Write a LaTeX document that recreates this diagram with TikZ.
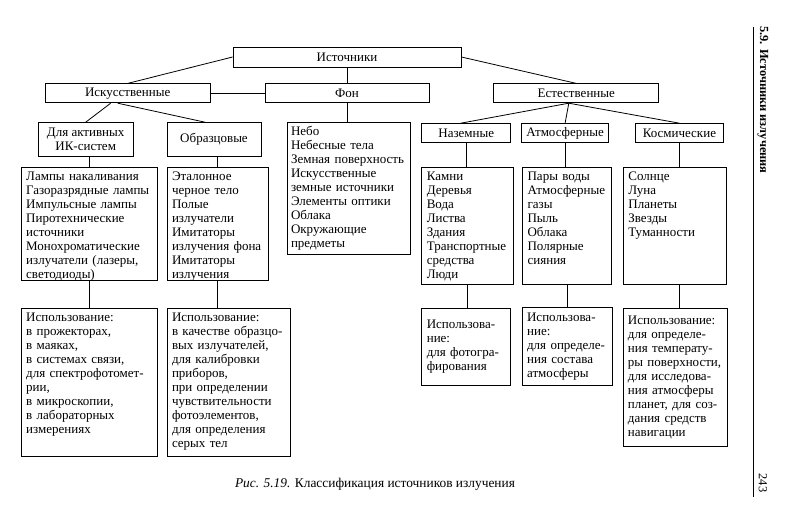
\documentclass[tikz,border=0pt]{standalone}
\usepackage{fontspec}
\setmainfont{Liberation Serif}
\usetikzlibrary{positioning}
\tikzstyle{head} = [rectangle,draw=black,minimum height=19pt,inner sep=0pt,text centered]
\tikzstyle{lst} = [rectangle,draw=black,align=left,inner xsep=5pt,inner ysep=3pt,text height=10pt]
\tikzstyle{use} = [rectangle,draw=black,align=left,inner xsep=5pt,inner ysep=3pt]

\begin{document}
\begin{tikzpicture}[x=1pt,y=1pt,line width=0.8pt,font=\fontsize{13}{14}\selectfont]
 \useasboundingbox (0,0) rectangle (794,-513);
 \node (SRC) [head,minimum width=228pt,minimum height=20pt] at (347,-57) {Источники};
 \node (BG) [head,minimum width=164pt,below=16pt of SRC] {Фон};
 \node (ART) [head,minimum width=165pt,left=54pt of BG] {Искусственные};
 \node (NAT) [head,minimum width=165pt,right=64pt of BG] {Естественные};
 % second level
 \node (ACT) [head,minimum width=95pt,minimum height=34pt,align=center,below=19pt of ART,xshift=-42pt]
            {Для активных\\ИК-систем};
 \node (REF) [head,minimum width=94pt,minimum height=34pt,right=33pt of ACT] {Образцовые};
 \node (BGL) [lst,inner xsep=4pt,text width=115pt,text depth=116pt,below=19pt of BG,xshift=1.5pt]
            {Небо\\Небесные тела\\Земная поверхность\\Искусственные\\земные источники\\Элементы оптики\\Облака\\Окружающие\\предметы};
 \node (GND) [head,minimum width=89pt,below=20pt of NAT,xshift=-110pt] {Наземные};
 \node (ATM) [head,minimum width=87pt,right=10pt of GND] {Атмосферные};
 \node (SPC) [head,minimum width=88pt,right=26pt of ATM] {Космические};
 % lists
 \node (ACTL) [lst,text width=126pt,text depth=97pt,below=10pt of ACT,xshift=3.5pt]
            {Лампы накаливания\\Газоразрядные лампы\\Импульсные лампы\\Пиротехнические\\источники\\Монохроматические\\излучатели (лазеры,\\светодиоды)};
 \node (REFL) [lst,text width=91pt,text depth=97pt,below=10pt of REF,xshift=3.5pt]
            {Эталонное\\черное тело\\Полые\\излучатели\\Имитаторы\\излучения фона\\Имитаторы\\излучения};
 \node (GNDL) [lst,text width=82pt,text depth=101pt,below=24pt of GND,xshift=1.5pt]
            {Камни\\Деревья\\Вода\\Листва\\Здания\\Транспортные\\средства\\Люди};
 \node (ATML) [lst,text width=79pt,text depth=101pt,below=24pt of ATM,xshift=2pt]
            {Пары воды\\Атмосферные\\газы\\Пыль\\Облака\\Полярные\\сияния};
 \node (SPCL) [lst,text width=93pt,text depth=101pt,below=24pt of SPC,xshift=-4.5pt]
            {Солнце\\Луна\\Планеты\\Звезды\\Туманности};
 % usage
 \node (ACTU) [lst,text width=126pt,text depth=132pt,below=27pt of ACTL]
            {Использование:\\в прожекторах,\\в маяках,\\в системах связи,\\для спектрофотомет-\\рии,\\в микроскопии,\\в лабораторных\\измерениях};
 \node (REFU) [lst,text width=113pt,text depth=132pt,below=27pt of REFL,xshift=11pt]
            {Использование:\\в качестве образцо-\\вых излучателей,\\для калибровки\\приборов,\\при определении\\чувствительности\\фотоэлементов,\\для определения\\серых тел};
 \node (GNDU) [use,text width=79pt,minimum height=77pt,below=23pt of GNDL,xshift=-1.5pt]
            {Использова-\\ние:\\для фотогра-\\фирования};
 \node (ATMU) [use,text width=80pt,minimum height=78pt,below=22pt of ATML]
            {Использова-\\ние:\\для определе-\\ния состава\\атмосферы};
 \node (SPCU) [use,text width=94pt,minimum height=138pt,below=23pt of SPCL]
            {Использование:\\для определе-\\ния температу-\\ры поверхности,\\для исследова-\\ния атмосферы\\планет, для соз-\\дания средств\\навигации};
 % connectors
 \draw (SRC.west) -- (ART.north);
 \draw (SRC.east) -- (NAT.north);
 \draw (SRC) -- (BG);
 \draw (ART) -- (BG);
 \draw ([xshift=-17pt]ART.south) -- (ACT.north);
 \draw ([xshift=-10pt]ART.south) -- ([xshift=-9pt]REF.north);
 \draw ([xshift=-7.5pt]NAT.south) -- ([xshift=-5.5pt]GND.north);
 \draw ([xshift=-7.5pt]NAT.south) -- (ATM.north);
 \draw ([xshift=-7.5pt]NAT.south) -- (SPC.north);
 \foreach \a/\b in {BG/BGL,GND/GNDL,ATM/ATML,SPC/SPCL,ACTL/ACTU,REFL/REFU,GNDL/GNDU,ATML/ATMU}
   \draw (\a.south) -- (\a.south |- \b.north);
 \draw (ACTL.north) -- (ACTL.north |- ACT.south);
 \draw (REFL.north) -- (REFL.north |- REF.south);
 \draw (SPCU.north -| SPC) -- (SPCL.south -| SPC);
 % caption and running head
 \node (CAP) [font=\fontsize{13.4}{14}\selectfont] at (375,-484) {\textit{Рис. 5.19.} Классификация источников излучения};
 \coordinate (RT) at (753,-27);
 \coordinate (RB) at (753,-497);
 \draw [line width=0.6pt] (RT) -- (RB);
 \node (HEAD) [rotate=-90,font=\fontsize{12.4}{14}\selectfont\bfseries] at (763,-100) {5.9. Источники излучения};
 \node (PAGE) [rotate=-90,font=\fontsize{12.4}{14}\selectfont] at (763,-483) {243};
\end{tikzpicture}
\end{document}
